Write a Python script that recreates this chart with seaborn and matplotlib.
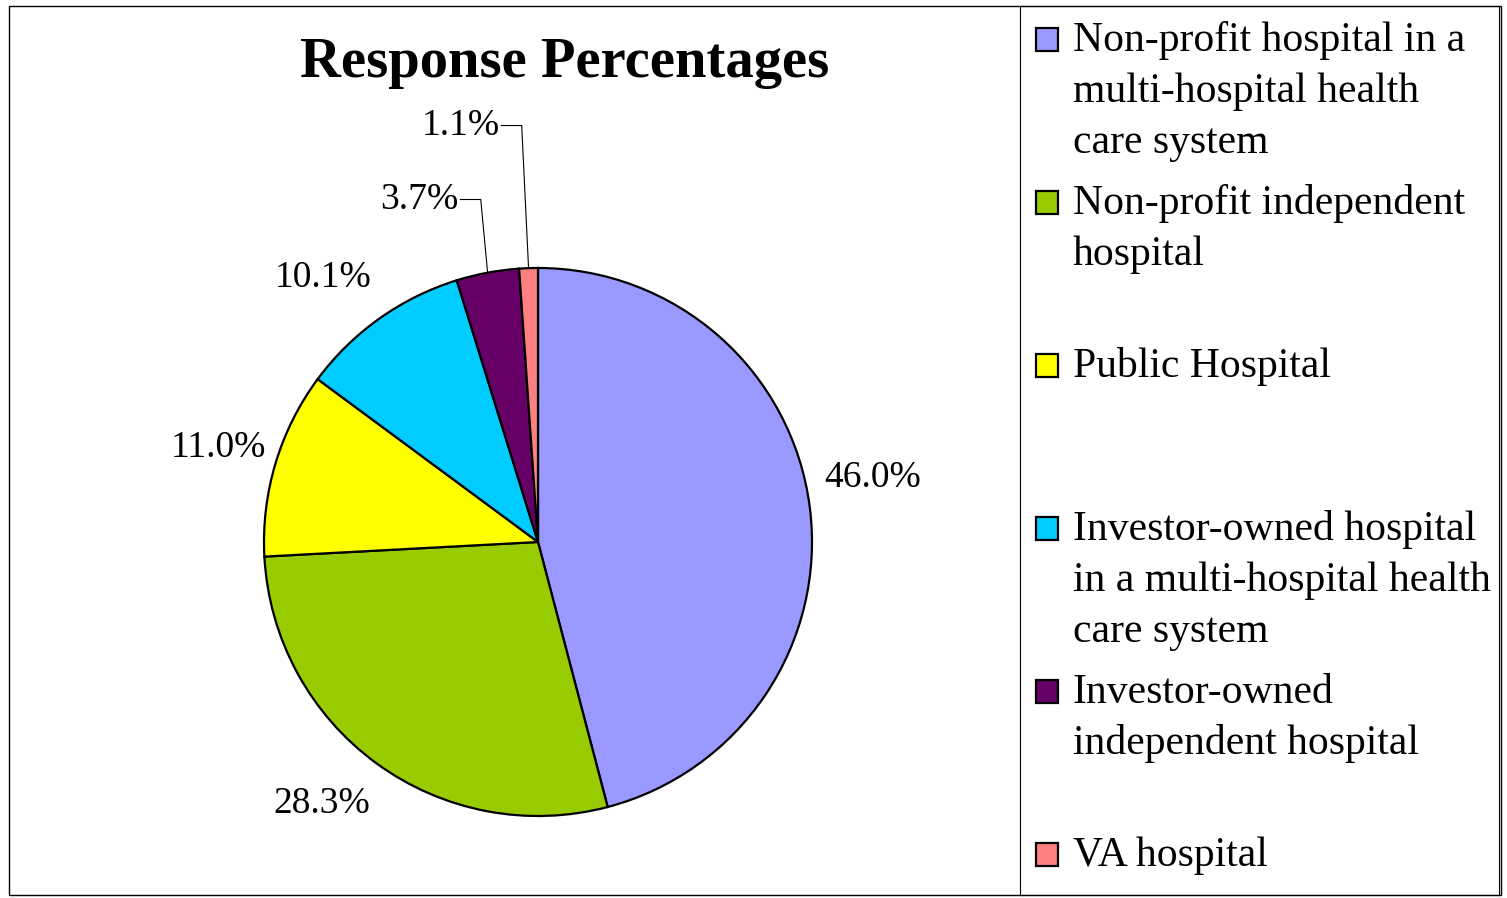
import numpy as np
import matplotlib
matplotlib.use("Agg")
import matplotlib.pyplot as plt
import seaborn as sns
from matplotlib.patches import Rectangle

categories = [
    "Non-profit hospital in a\nmulti-hospital health\ncare system",
    "Non-profit independent\nhospital",
    "Public Hospital",
    "Investor-owned hospital\nin a multi-hospital health\ncare system",
    "Investor-owned\nindependent hospital",
    "VA hospital",
]
values = [46.0, 28.3, 11.0, 10.1, 3.7, 1.1]
pct_labels = ["46.0%", "28.3%", "11.0%", "10.1%", "3.7%", "1.1%"]
colors = ["#9999FF", "#99CC00", "#FFFF00", "#00CCFF", "#660066", "#FF8080"]
title = "Response Percentages"

sns.set_theme(style="white")
plt.rcParams["font.family"] = ["Liberation Serif", "DejaVu Serif"]
plt.rcParams["text.color"] = "black"

W, H = 1507, 898
fig = plt.figure(figsize=(W / 100, H / 100), dpi=100)
fig.patch.set_facecolor("white")

# pie axes covering the full figure, 1 data unit = R pixels
cx, cy, R = 538, 542, 274
ax = fig.add_axes([0, 0, 1, 1])
wedges, _ = ax.pie(values, colors=colors, startangle=90, counterclock=False,
                   radius=1, center=(0, 0),
                   wedgeprops=dict(edgecolor="black", linewidth=1.6))
ax.set_aspect("auto")
ax.set_xlim(-cx / R, (W - cx) / R)
ax.set_ylim(-(H - cy) / R, cy / R)
ax.axis("off")

fs = 27
# small layout nudges for outside labels (pixels: right, down)
nudges = [(0, -21), (-18, -11), (3, 3), (-20, 11)]
leader_heights = {4: 1.25, 5: 1.52}
for i, w in enumerate(wedges):
    mid = np.deg2rad((w.theta1 + w.theta2) / 2)
    ex, ey = np.cos(mid), np.sin(mid)
    if i in leader_heights:
        ly = leader_heights[i]
        elbow_x = ex - 0.025
        ax.plot([ex, elbow_x, elbow_x - 0.075], [ey, ly, ly], color="black", lw=0.8)
        ax.text(elbow_x - 0.08, ly, pct_labels[i], ha="right", va="center", fontsize=fs)
    else:
        nx, ny = nudges[i]
        ax.text(1.23 * ex + nx / R, 1.23 * ey - ny / R, pct_labels[i],
                ha="center", va="center", fontsize=fs)

# title
fig.text(565 / W, 1 - 63 / H, title, ha="center", va="center",
         fontsize=40.8, fontweight="bold")

# frames
fig.patches.append(Rectangle((9 / W, 1 - 895 / H), (1501 - 9) / W, (895 - 6) / H,
                             transform=fig.transFigure, fill=False,
                             edgecolor="black", lw=1.0))
fig.patches.append(Rectangle((1020 / W, 1 - 895 / H), (1499 - 1020) / W, (895 - 6) / H,
                             transform=fig.transFigure, fill=False,
                             edgecolor="black", lw=0.8))

# legend (manual)
lfs = 30
first_base = 51
entry_step = 163
line_step = 51
for k, (lab, col) in enumerate(zip(categories, colors)):
    base = first_base + k * entry_step
    fig.patches.append(Rectangle((1036 / W, 1 - base / H), 22 / W, 23 / H,
                                 transform=fig.transFigure, facecolor=col,
                                 edgecolor="black", lw=1.6))
    for j, line in enumerate(lab.split("\n")):
        fig.text(1073 / W, 1 - (base + j * line_step) / H, line,
                 ha="left", va="baseline", fontsize=lfs)

fig.savefig("out.png", dpi=100, facecolor="white")
